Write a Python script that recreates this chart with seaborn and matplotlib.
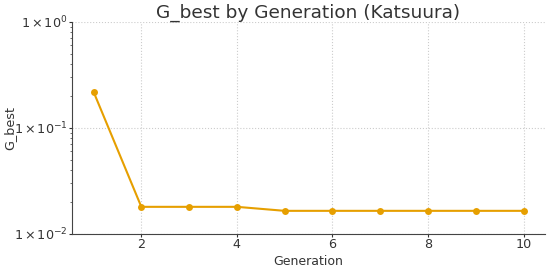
import numpy as np
import pandas as pd
import matplotlib
matplotlib.use("Agg")
import matplotlib.pyplot as plt
import matplotlib.ticker as mticker
import seaborn as sns

# 資料
generation = [1, 2, 3, 4, 5, 6, 7, 8, 9, 10]
g_best = [0.219, 0.0180, 0.0180, 0.0180, 0.0165, 0.0165, 0.0165, 0.0165, 0.0165, 0.0165]

df = pd.DataFrame({"Generation": generation, "G_best": g_best})

sns.set_style("ticks")
plt.rcParams['font.family'] = ['DejaVu Sans']

fig, ax = plt.subplots(figsize=(5.5, 2.67), dpi=100)
sns.lineplot(data=df, x="Generation", y="G_best", marker="o", color="#E69F00",
             linewidth=1.5, markersize=5, markeredgewidth=0, ax=ax)

ax.set_yscale("log")
ax.set_ylim(1e-2, 1e0)
ax.yaxis.set_major_locator(mticker.LogLocator(base=10, numticks=5))
ax.yaxis.set_major_formatter(mticker.FuncFormatter(lambda v, p: r"$\mathdefault{1\,{\times}\,10^{%d}}$" % round(np.log10(v))))
ax.set_xticks([2, 4, 6, 8, 10])

ax.grid(True, which="major", linestyle=":", color="#cccccc", linewidth=0.8)
sns.despine(ax=ax)
for s in ["left", "bottom"]:
    ax.spines[s].set_color("#444444")
ax.tick_params(colors="#333333", labelsize=9.2, length=2, pad=1)
ax.tick_params(which="minor", color="#555555", length=1.8)

ax.set_title("G_best by Generation (Katsuura)", fontsize=13.3, color="#333333", pad=3)
ax.set_xlabel("Generation", fontsize=9, color="#333333", labelpad=3)
ax.set_ylabel("G_best", fontsize=9.2, color="#333333")
ax.yaxis.set_label_coords(-0.118, 0.5)

fig.subplots_adjust(left=0.131, right=0.991, top=0.918, bottom=0.124)
fig.savefig("out.png", dpi=100)
